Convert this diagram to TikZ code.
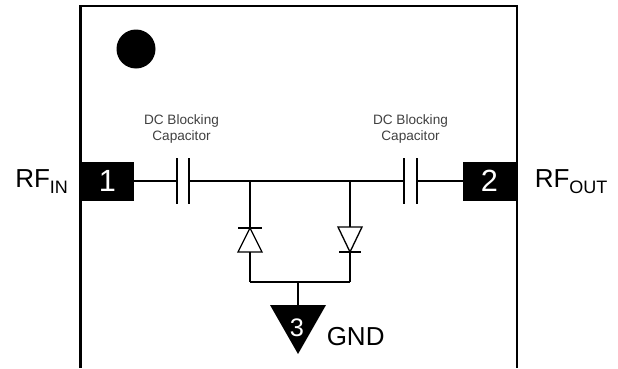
\documentclass[tikz,border=0pt]{standalone}
\usepackage{fontspec}
\setmainfont{Liberation Sans}

\tikzset{
  wire/.style={black, line width=1pt},
  padbox/.style={fill=black, text=white, inner sep=0pt, minimum width=39.75pt, minimum height=29.25pt, font=\fontsize{23}{23}\selectfont},
  caplabel/.style={text=black!75, align=center, inner sep=0pt, font=\fontsize{10.2}{12.2}\selectfont},
  biglabel/.style={anchor=base west, inner sep=0pt, font=\fontsize{19.5}{20}\selectfont},
}
\newcommand{\rfsub}[1]{\lower4.5pt\hbox{\fontsize{13.5}{15}\selectfont #1}}

\begin{document}
\begin{tikzpicture}[x=0.75pt, y=-0.75pt]
    \useasboundingbox (0,0) rectangle (618,368);

    % contorno del chip, abierto abajo
    \draw[black, line width=2pt] (80.5,368) -- (80.5,6) -- (517,6) -- (517,368);

    % marca del pin 1
    \fill[black] (136,49) circle (19.5);

    % pads
    \node[padbox] (pad1) at (107.5,181) {1};
    \node[padbox] (pad2) at (489.5,181) {2};

    % puntos de la red
    \coordinate (capAl) at (177,181);
    \coordinate (capAr) at (189,181);
    \coordinate (capBl) at (404,181);
    \coordinate (capBr) at (417,181);
    \coordinate (nodeL) at (250,181);
    \coordinate (nodeR) at (350,181);
    \coordinate (dioLtop) at (250,228);
    \coordinate (dioLbot) at (250,252);
    \coordinate (dioRtop) at (350,227);
    \coordinate (dioRbot) at (350,252);
    \coordinate (busL) at (250,282);
    \coordinate (busM) at (298,282);
    \coordinate (busR) at (350,282);
    \coordinate (gndtop) at (298,305);

    % linea principal
    \draw[wire] (pad1) -- (capAl);
    \draw[wire] (capAr) -- (capBl);
    \draw[wire] (capBr) -- (pad2);

    % condensadores
    \draw[wire] (177,158) -- (177,204);
    \draw[wire] (189,158) -- (189,204);
    \draw[wire] (404,158) -- (404,204);
    \draw[wire] (417,158) -- (417,204);

    % diodos
    \draw[wire] (nodeL) -- (dioLtop);
    \draw[wire] (238,228) -- (262,228);
    \draw[wire, line join=miter] (dioLtop) -- (238,252) -- (262,252) -- cycle;
    \draw[wire] (dioLbot) -- (busL);

    \draw[wire] (nodeR) -- (dioRtop);
    \draw[wire, line join=miter] (338,227) -- (362,227) -- (dioRbot) -- cycle;
    \draw[wire] (339,252) -- (361,252);
    \draw[wire] (dioRbot) -- (busR);

    % masa
    \draw[wire] (busL) -- (busR);
    \draw[wire] (busM) -- (gndtop);
    \fill[black] (270,305) -- (326,305) -- (298,354) -- cycle;
    \node[text=white, inner sep=0pt, font=\fontsize{19}{19}\selectfont] (pad3) at (297,328) {3};

    %leyendas
    \node[caplabel] (capAtxt) at (181.5,129) {DC Blocking\\Capacitor};
    \node[caplabel] (capBtxt) at (410.5,129) {DC Blocking\\Capacitor};
    \node[biglabel] (rfin) at (15,187) {RF\rfsub{IN}};
    \node[biglabel] (rfout) at (534.5,187) {RF\rfsub{OUT}};
    \node[biglabel] (gnd) at (326.5,345.5) {GND};

\end{tikzpicture}
\end{document}
